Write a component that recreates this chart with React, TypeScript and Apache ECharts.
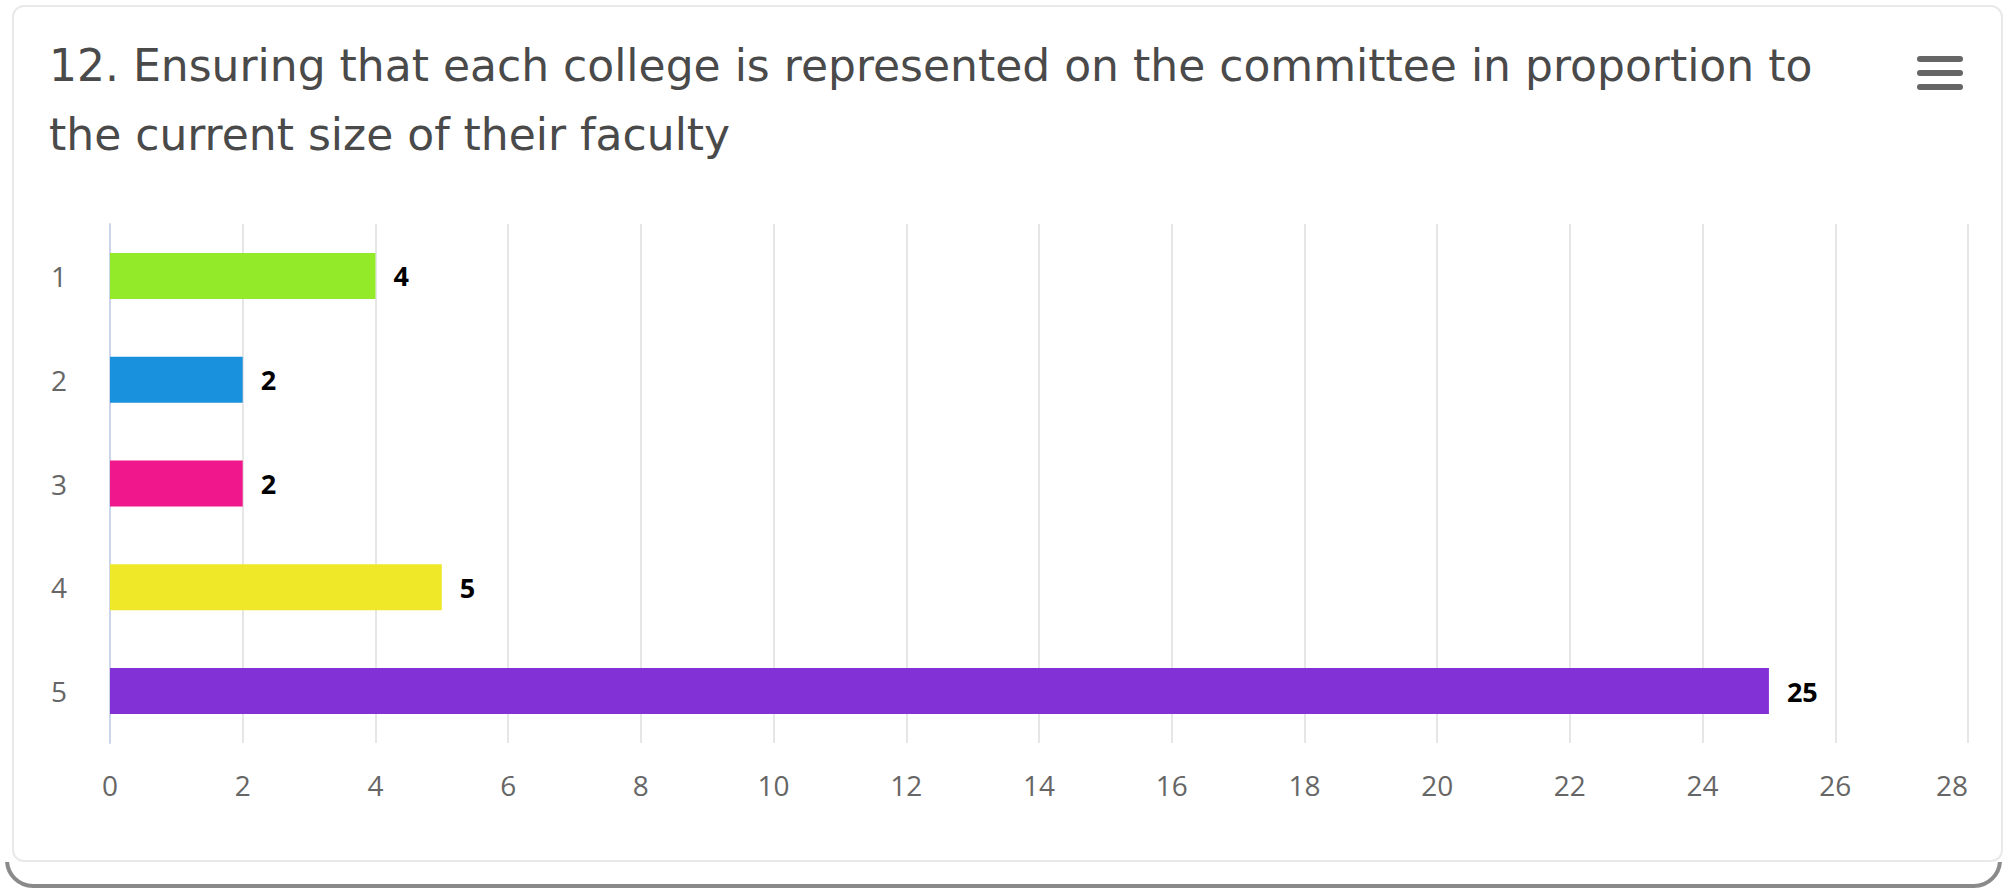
import React, { useEffect, useRef } from "react";
import * as echarts from "echarts";

const titleText = "12. Ensuring that each college is represented on the committee in proportion to\nthe current size of their faculty";
const categories = ["1", "2", "3", "4", "5"];
const values = [4, 2, 2, 5, 25];
const barColors = ["#93EA28", "#1A91DD", "#F0168B", "#EEE828", "#8231D6"];
const xTicks = { min: 0, max: 28, interval: 2 };

const FONT = "'Open Sans', 'DejaVu Sans', sans-serif";
const TITLE_FONT = "'DejaVu Sans', sans-serif";

export default function App() {
  const ref = useRef<HTMLDivElement>(null);

  useEffect(() => {
    if (!ref.current) return;
    const chart = echarts.init(ref.current, undefined, { renderer: "svg" });
    chart.setOption({
      animation: false,
      backgroundColor: "transparent",
      textStyle: { fontFamily: FONT },
      title: {
        text: titleText,
        left: 49,
        top: 31,
        padding: 0,
        textStyle: {
          fontFamily: TITLE_FONT,
          fontSize: 44,
          fontWeight: "normal",
          color: "#4a4a4a",
          lineHeight: 69,
        },
      },
      grid: { left: 110, right: 42, top: 224, bottom: 149, containLabel: false },
      xAxis: {
        type: "value",
        min: xTicks.min,
        max: xTicks.max,
        interval: xTicks.interval,
        axisLine: { show: false },
        axisTick: { show: false },
        splitLine: { show: true, lineStyle: { color: "#e6e6e6", width: 2 } },
        axisLabel: {
          color: "#666666",
          fontSize: 28,
          fontFamily: FONT,
          margin: 28,
          alignMaxLabel: "right",
        },
      },
      yAxis: {
        type: "category",
        data: categories,
        inverse: true,
        axisLine: { show: true, lineStyle: { color: "#ccd6eb", width: 2 } },
        axisTick: { show: false },
        splitLine: { show: false },
        axisLabel: { color: "#666666", fontSize: 28, fontFamily: FONT, margin: 43 },
      },
      series: [
        {
          type: "bar",
          barWidth: 46,
          data: values.map((v, i) => ({ value: v, itemStyle: { color: barColors[i] } })),
          label: {
            show: true,
            position: "right",
            distance: 18,
            color: "#000000",
            fontWeight: "bold",
            fontSize: 27,
            fontFamily: FONT,
            textBorderColor: "#ffffff",
            textBorderWidth: 2,
          },
        },
      ],
      graphic: [
        { type: "rect", shape: { x: 1917, y: 56, width: 46, height: 6, r: 3 }, style: { fill: "#666666" } },
        { type: "rect", shape: { x: 1917, y: 70, width: 46, height: 6, r: 3 }, style: { fill: "#666666" } },
        { type: "rect", shape: { x: 1917, y: 84, width: 46, height: 6, r: 3 }, style: { fill: "#666666" } },
      ],
    });
    return () => chart.dispose();
  }, []);

  return (
    <div style={{ position: "fixed", left: 0, top: 0, width: 2010, height: 892, background: "#ffffff", overflow: "hidden" }}>
      <div
        style={{
          position: "absolute",
          left: 0,
          top: 862,
          width: 2010,
          height: 30,
          overflow: "hidden",
        }}
      >
        <div
          style={{
            position: "absolute",
            left: 5,
            top: -60,
            width: 1997,
            height: 86,
            border: "4px solid #8a8a8a",
            borderRadius: 28,
            boxSizing: "border-box",
          }}
        />
      </div>
      <div
        style={{
          position: "absolute",
          left: 12,
          top: 5,
          width: 1991,
          height: 857,
          border: "2px solid #e9e9e9",
          borderRadius: 12,
          boxSizing: "border-box",
          background: "#ffffff",
        }}
      />
      <div ref={ref} style={{ position: "absolute", left: 0, top: 0, width: 2010, height: 892 }} />
    </div>
  );
}
